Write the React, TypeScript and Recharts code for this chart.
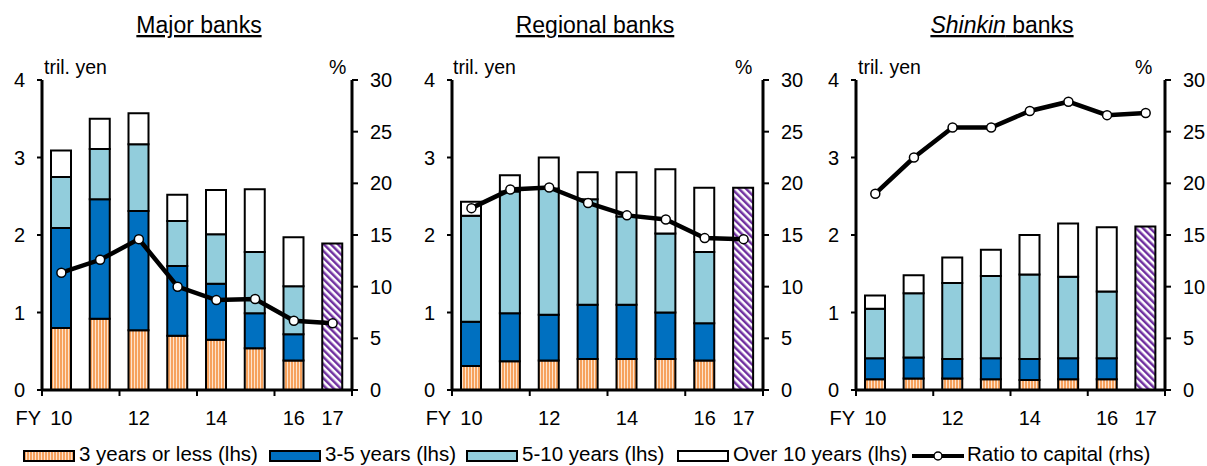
import React from 'react';
import { ComposedChart, Bar, Line, XAxis, YAxis } from 'recharts';

const years = ['10', '11', '12', '13', '14', '15', '16', '17'];
const tickLabels = ['10', '', '12', '', '14', '', '16', '17'];

// Major banks (tril. yen segments, ratio %)
const majorUpTo3 = [0.8, 0.92, 0.77, 0.7, 0.65, 0.54, 0.38, null];
const major3to5 = [1.29, 1.54, 1.54, 0.9, 0.72, 0.45, 0.34, null];
const major5to10 = [0.66, 0.65, 0.86, 0.58, 0.64, 0.79, 0.62, null];
const majorOver10 = [0.34, 0.39, 0.4, 0.34, 0.57, 0.81, 0.63, null];
const majorTotal17 = [null, null, null, null, null, null, null, 1.89];
const majorRatio = [11.35, 12.6, 14.6, 10.0, 8.7, 8.8, 6.7, 6.45];

// Regional banks
const regionalUpTo3 = [0.31, 0.37, 0.38, 0.4, 0.4, 0.4, 0.38, null];
const regional3to5 = [0.57, 0.62, 0.59, 0.7, 0.7, 0.6, 0.48, null];
const regional5to10 = [1.37, 1.57, 1.63, 1.36, 1.14, 1.02, 0.92, null];
const regionalOver10 = [0.18, 0.21, 0.4, 0.35, 0.57, 0.83, 0.83, null];
const regionalTotal17 = [null, null, null, null, null, null, null, 2.61];
const regionalRatio = [17.6, 19.4, 19.6, 18.1, 16.9, 16.5, 14.7, 14.6];

// Shinkin banks
const shinkinUpTo3 = [0.14, 0.15, 0.15, 0.14, 0.13, 0.14, 0.14, null];
const shinkin3to5 = [0.27, 0.27, 0.25, 0.27, 0.27, 0.27, 0.27, null];
const shinkin5to10 = [0.64, 0.83, 0.98, 1.06, 1.09, 1.05, 0.86, null];
const shinkinOver10 = [0.17, 0.23, 0.33, 0.34, 0.51, 0.69, 0.83, null];
const shinkinTotal17 = [null, null, null, null, null, null, null, 2.11];
const shinkinRatio = [19.0, 22.5, 25.4, 25.4, 27.0, 27.9, 26.6, 26.8];

const leftTicks = [0, 1, 2, 3, 4];
const rightTicks = [0, 5, 10, 15, 20, 25, 30];

const FONT = '"Liberation Sans", Arial, sans-serif';
const TICK_FS = 20;

function buildRows(a: any[], b: any[], c: any[], d: any[], t: any[], r: number[]) {
  return years.map((y, i) => ({ year: y, s1: a[i], s2: b[i], s3: c[i], s4: d[i], s5: t[i], ratio: r[i] }));
}

const majorRows = buildRows(majorUpTo3, major3to5, major5to10, majorOver10, majorTotal17, majorRatio);
const regionalRows = buildRows(regionalUpTo3, regional3to5, regional5to10, regionalOver10, regionalTotal17, regionalRatio);
const shinkinRows = buildRows(shinkinUpTo3, shinkin3to5, shinkin5to10, shinkinOver10, shinkinTotal17, shinkinRatio);

const DARK = '#0070C0';
const LIGHT = '#92CDDC';

function makeTick(plotW: number) {
  const band = plotW / 8;
  return (props: any) => {
    const { x, y, index } = props;
    const label = tickLabels[index];
    return (
      <g>
        {index % 2 === 0 && (
          <line x1={x - band / 2} x2={x - band / 2} y1={y} y2={y + 6} stroke="#000" strokeWidth={2} />
        )}
        {index === 7 && <line x1={x + band / 2} x2={x + band / 2} y1={y} y2={y + 6} stroke="#000" strokeWidth={2} />}
        {label ? (
          <text x={x} y={y + 35} textAnchor="middle" fontSize={TICK_FS} fontFamily={FONT} fill="#000">
            {label}
          </text>
        ) : null}
        {index === 0 && (
          <text x={x - 33} y={y + 35} textAnchor="middle" fontSize={TICK_FS} fontFamily={FONT} fill="#000">
            FY
          </text>
        )}
      </g>
    );
  };
}

function Panel({ rows, left, width, leftW, rightW }: any) {
  const plotW = width - leftW - rightW;
  return (
    <div style={{ position: 'absolute', left, top: 0 }}>
      <ComposedChart width={width} height={466} data={rows} margin={{ top: 80, bottom: 46, left: 0, right: 0 }} barSize={20}>
        <XAxis
          dataKey="year"
          xAxisId="x"
          height={30}
          interval={0}
          tickLine={false}
          tickSize={0}
          tickMargin={0}
          axisLine={{ stroke: '#000', strokeWidth: 3 }}
          tick={makeTick(plotW)}
        />
        <YAxis
          yAxisId="l"
          orientation="left"
          width={leftW}
          domain={[0, 4]}
          ticks={leftTicks}
          interval={0}
          tickSize={5}
          tickMargin={12}
          axisLine={{ stroke: '#000', strokeWidth: 3 }}
          tickLine={{ stroke: '#000', strokeWidth: 2 }}
          tick={{ fill: '#000', fontSize: TICK_FS, fontFamily: FONT }}
        />
        <YAxis
          yAxisId="r"
          orientation="right"
          width={rightW}
          domain={[0, 30]}
          ticks={rightTicks}
          interval={0}
          tickSize={6}
          tickMargin={12}
          axisLine={{ stroke: '#000', strokeWidth: 3 }}
          tickLine={{ stroke: '#000', strokeWidth: 2 }}
          tick={{ fill: '#000', fontSize: TICK_FS, fontFamily: FONT }}
        />
        <Bar dataKey="s1" stackId="a" xAxisId="x" yAxisId="l" fill="url(#pOrange)" stroke="#000" strokeWidth={2} isAnimationActive={false} />
        <Bar dataKey="s2" stackId="a" xAxisId="x" yAxisId="l" fill={DARK} stroke="#000" strokeWidth={2} isAnimationActive={false} />
        <Bar dataKey="s3" stackId="a" xAxisId="x" yAxisId="l" fill={LIGHT} stroke="#000" strokeWidth={2} isAnimationActive={false} />
        <Bar dataKey="s4" stackId="a" xAxisId="x" yAxisId="l" fill="#FFFFFF" stroke="#000" strokeWidth={2} isAnimationActive={false} />
        <Bar dataKey="s5" stackId="a" xAxisId="x" yAxisId="l" fill="url(#pPurple)" stroke="#000" strokeWidth={2} isAnimationActive={false} />
        <Line
          dataKey="ratio"
          xAxisId="x"
          yAxisId="r"
          stroke="#000"
          strokeWidth={4.5}
          dot={{ r: 4.5, fill: '#fff', stroke: '#000', strokeWidth: 1.5 }}
          isAnimationActive={false}
        />
      </ComposedChart>
    </div>
  );
}

const legendItems = [
  { label: '3 years or less (lhs)', fill: 'url(#pOrange)', x: 24, kind: 'bar' },
  { label: '3-5 years (lhs)', fill: DARK, x: 270, kind: 'bar' },
  { label: '5-10 years (lhs)', fill: LIGHT, x: 467, kind: 'bar' },
  { label: 'Over 10 years (lhs)', fill: '#FFFFFF', x: 678, kind: 'bar' },
  { label: 'Ratio to capital (rhs)', fill: '', x: 912, kind: 'line' },
];

export default function App() {
  return (
    <div style={{ position: 'absolute', left: 0, top: 0, width: 1207, height: 466, background: '#fff', overflow: 'hidden' }}>
      <svg width={0} height={0} style={{ position: 'absolute' }}>
        <defs>
          <pattern id="pOrange" patternUnits="userSpaceOnUse" width={3} height={10}>
            <rect x={0} y={0} width={3} height={10} fill="#FDE4CE" />
            <rect x={0} y={0} width={2} height={10} fill="#F6A25E" />
          </pattern>
          <pattern id="pPurple" patternUnits="userSpaceOnUse" width={5} height={5} patternTransform="rotate(-45)">
            <rect x={0} y={0} width={5} height={5} fill="#FFFFFF" />
            <rect x={0} y={0} width={2.5} height={5} fill="#7030A0" />
          </pattern>
        </defs>
      </svg>
      <Panel rows={majorRows} left={0} width={400} leftW={42} rightW={48} />
      <Panel rows={regionalRows} left={400} width={430} leftW={52} rightW={67} />
      <Panel rows={shinkinRows} left={800} width={407} leftW={56} rightW={42} />
      <svg width={1207} height={466} style={{ position: 'absolute', left: 0, top: 0, pointerEvents: 'none' }}>
        <g fontFamily={FONT} fill="#000">
          <text x={199} y={33} fontSize={23} textAnchor="middle" style={{ textDecoration: 'underline' }}>
            Major banks
          </text>
          <text x={595} y={33} fontSize={23} textAnchor="middle" style={{ textDecoration: 'underline' }}>
            Regional banks
          </text>
          <text x={1002} y={33} fontSize={23} textAnchor="middle" style={{ textDecoration: 'underline' }}>
            <tspan fontStyle="italic">Shinkin</tspan> banks
          </text>
          <text x={44} y={74} fontSize={19.5}>tril. yen</text>
          <text x={453} y={74} fontSize={19.5}>tril. yen</text>
          <text x={858} y={74} fontSize={19.5}>tril. yen</text>
          <text x={329} y={74} fontSize={19.5}>%</text>
          <text x={735} y={74} fontSize={19.5}>%</text>
          <text x={1135} y={74} fontSize={19.5}>%</text>
          {legendItems.map((it) => (
            <g key={it.label}>
              {it.kind === 'bar' ? (
                <rect x={it.x} y={451} width={50} height={10} fill={it.fill} stroke="#000" strokeWidth={2} />
              ) : (
                <g>
                  <line x1={it.x} x2={it.x + 52} y1={456} y2={456} stroke="#000" strokeWidth={4} />
                  <circle cx={it.x + 26} cy={456} r={4} fill="#fff" stroke="#000" strokeWidth={1.5} />
                </g>
              )}
              <text x={it.x + 55} y={461} fontSize={20.5}>
                {it.label}
              </text>
            </g>
          ))}
        </g>
      </svg>
    </div>
  );
}
